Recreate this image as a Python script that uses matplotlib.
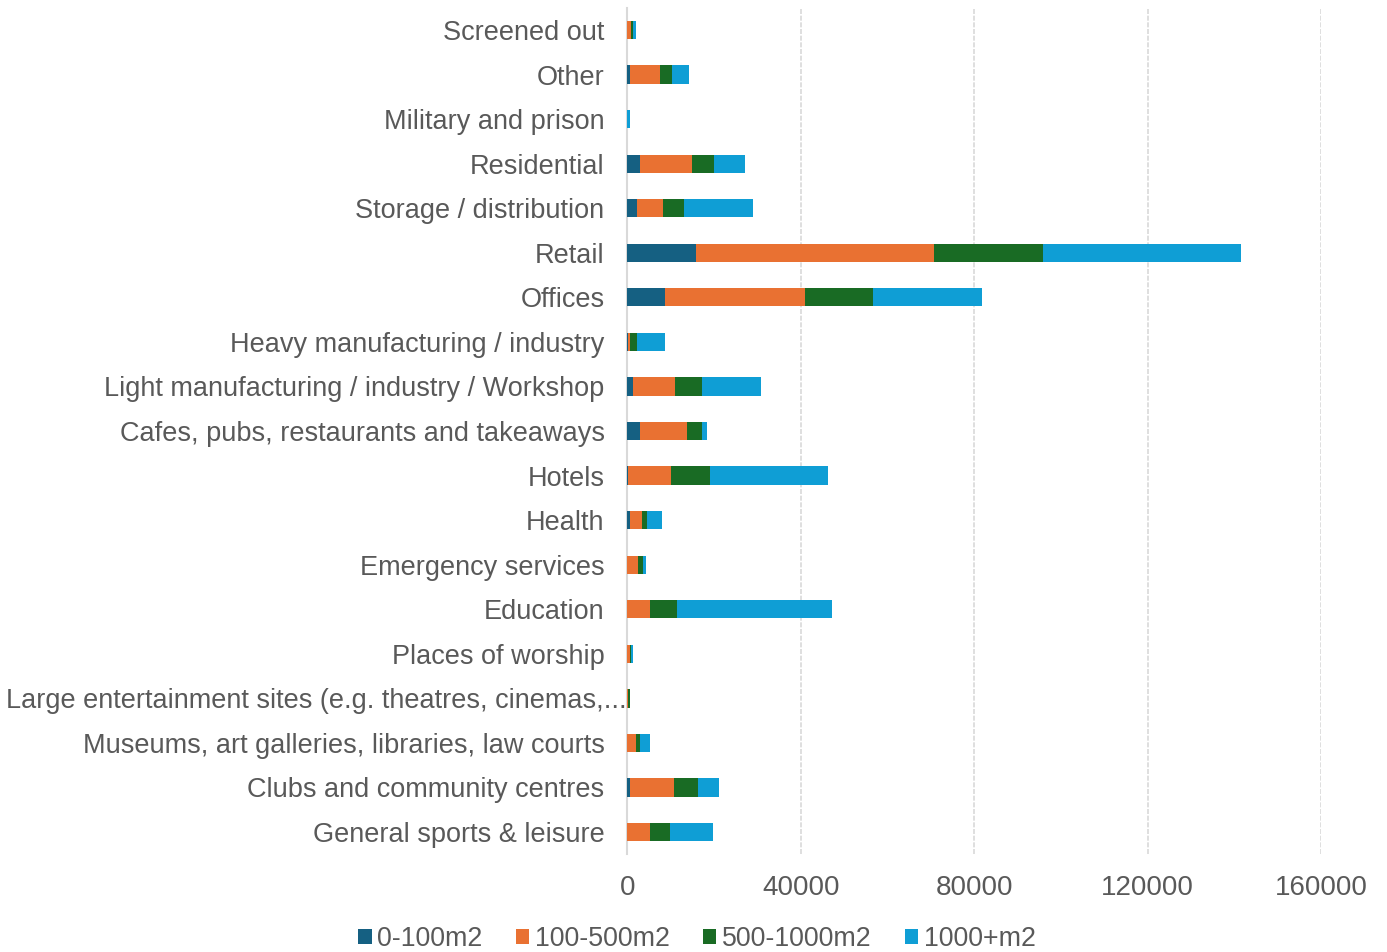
import matplotlib
matplotlib.use("Agg")
import matplotlib.pyplot as plt
from matplotlib.transforms import ScaledTranslation
import numpy as np

plt.rcParams['font.family'] = ['Liberation Sans', 'DejaVu Sans']

categories = [
    "Screened out",
    "Other",
    "Military and prison",
    "Residential",
    "Storage / distribution",
    "Retail",
    "Offices",
    "Heavy manufacturing / industry",
    "Light manufacturing / industry / Workshop",
    "Cafes, pubs, restaurants and takeaways",
    "Hotels",
    "Health",
    "Emergency services",
    "Education",
    "Places of worship",
    "Large entertainment sites (e.g. theatres, cinemas,...",
    "Museums, art galleries, libraries, law courts",
    "Clubs and community centres",
    "General sports & leisure",
]

# values per size band, same order as categories
size_0_100 = [0, 530, 0, 2850, 2150, 15770, 8700, 100, 1380, 2850,
              150, 540, 0, 0, 0, 0, 0, 620, 0]
size_100_500 = [850, 7000, 0, 12080, 6150, 54850, 32300, 450, 9600, 10900,
                9850, 2700, 2460, 5150, 540, 100, 2080, 10000, 5150]
size_500_1000 = [400, 2700, 0, 5080, 4700, 25300, 15600, 1600, 6300, 3540,
                 9000, 1150, 1230, 6300, 380, 400, 770, 5540, 4700]
size_1000_plus = [770, 3900, 500, 7000, 15900, 45600, 25300, 6540, 13600, 1150,
                  27300, 3540, 690, 35850, 380, 0, 2390, 5000, 9770]

series = [
    ("0-100m2", size_0_100, "#156082"),
    ("100-500m2", size_100_500, "#E97132"),
    ("500-1000m2", size_500_1000, "#196B24"),
    ("1000+m2", size_1000_plus, "#0F9ED5"),
]

text_color = "#595959"

fig = plt.figure(figsize=(13.87, 9.52), dpi=100)
ax = fig.add_axes([0.4524, 0.1026, 0.5000, 0.8893])

y = np.arange(len(categories))
left = np.zeros(len(categories))
for label, vals, color in series:
    vals = np.array(vals, dtype=float)
    ax.barh(y, vals, left=left, height=0.41, color=color, label=label, zorder=3)
    left += vals

ax.set_ylim(len(categories) - 0.5, -0.5)
ax.set_xlim(0, 160000)
ax.set_xticks([0, 40000, 80000, 120000, 160000])
ax.set_yticks(y)
ax.set_yticklabels(categories)

ax.grid(axis='x', color='#d9d9d9', linewidth=1.2, linestyle=(0, (3, 1)), zorder=0)
for side in ['top', 'right', 'bottom']:
    ax.spines[side].set_visible(False)
ax.spines['left'].set_color('#d9d9d9')
ax.spines['left'].set_linewidth(1.5)

ax.tick_params(axis='y', length=0, pad=16.5, labelsize=19.5, labelcolor=text_color)
ax.tick_params(axis='x', length=0, pad=15, labelsize=20, labelcolor=text_color)

# the truncated label sits further right, as in the original chart
long_label = ax.get_yticklabels()[15]
long_label.set_transform(long_label.get_transform()
                         + ScaledTranslation(0.22, 0, fig.dpi_scale_trans))

ax.legend(loc='upper center', bbox_to_anchor=(0.1, -0.072), ncol=4, frameon=False,
          fontsize=19.3, labelcolor=text_color, handlelength=0.5, handleheight=0.5,
          handletextpad=0.2, columnspacing=1.25, borderaxespad=0)

fig.savefig("out.png", dpi=100)
